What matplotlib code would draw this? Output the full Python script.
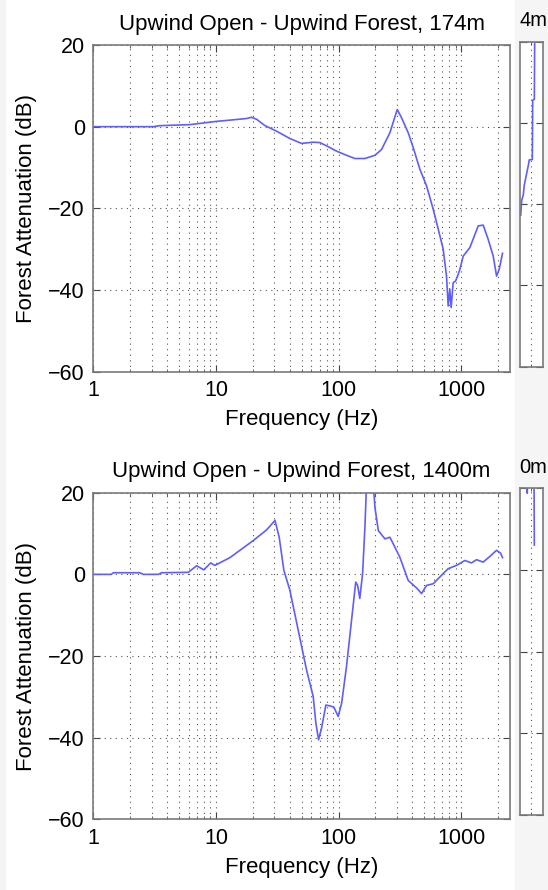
import matplotlib
matplotlib.use("Agg")
import matplotlib.pyplot as plt
from matplotlib.patches import Rectangle
from matplotlib.ticker import LogLocator, FixedLocator, NullFormatter

plt.rcParams["font.family"] = ["Liberation Sans", "DejaVu Sans"]

# upwind open - upwind forest, 174 m
freq_174 = [1, 3.08, 3.5, 6.14, 8.4, 10.1, 13, 17.8, 19.5, 21.5, 25, 31.2, 40.1,
            49.9, 62.1, 70.4, 82.4, 96.4, 116, 136, 164, 198, 224, 262, 301,
            326, 370, 406, 460, 522, 591, 650, 713, 759, 783, 807, 828, 860,
            899, 934, 976, 1038, 1177, 1376, 1511, 1660, 1824, 1943, 2042, 2173]
atten_174 = [0, 0, 0.25, 0.5, 1.0, 1.3, 1.6, 2.0, 2.3, 1.8, 0.3, -1.1, -2.9,
             -4.1, -3.8, -3.9, -4.9, -6.0, -7.0, -7.8, -7.8, -7.0, -5.6, -1.5, 4.2,
             2.2, -1.5, -5.1, -10.4, -14.5, -20.2, -25.1, -30.0, -36.6, -43.9, -39.8, -44.3, -38.2,
             -37.8, -36.6, -34.9, -31.7, -29.6, -24.3, -24.1, -27.6, -31.7, -36.6, -34.9, -31.0]

# upwind open - upwind forest, 1400 m
freq_1400 = [1, 1.4, 1.46, 2.4, 2.56, 3.39, 3.6, 5.95, 6.96, 7.98, 9.05, 9.8, 13,
             20.2, 25.9, 30.3, 32.8, 35.8, 40.1, 46.9, 54.8, 62.1, 65.3, 68.7, 72.7,
             78.8, 85, 91.6, 99.3, 106, 116, 132, 138, 143, 149, 157, 164, 169,
             192, 198, 211, 239, 262, 279, 316, 370, 432, 475, 522, 591, 692,
             783, 916, 1071, 1213, 1334, 1511, 1713, 1943, 2094, 2173]
atten_1400 = [0, 0, 0.4, 0.4, 0, 0, 0.4, 0.5, 2.1, 1.1, 2.8, 2.2, 4.1,
              8.3, 10.9, 13.2, 9.1, 1.0, -3.9, -13.7, -23.4, -29.9, -36.4, -40.5, -37.6,
              -32.0, -32.2, -32.5, -34.8, -31.5, -22.6, -7.2, -1.9, -2.7, -5.9, 0.2, 11.5, 22,
              22, 16.4, 10.7, 8.7, 9.1, 7.5, 4.2, -1.5, -3.3, -4.7, -2.7, -2.3, -0.2,
              1.4, 2.2, 3.4, 2.8, 3.6, 3.0, 4.4, 5.9, 5.2, 4.1]

# neighbouring panels on the right, only their right edges show
freq_edge_top = [1645, 1677, 1728, 1760, 1841, 1897, 1933, 2046, 2061, 2125, 2139, 2145]
atten_edge_top = [-22.7, -19, -17.7, -15.3, -12.4, -10.5, -9.1, -9, 5.6, 5.8, 20, 25]
freq_edge_bot = [1841, 1860, 1890, 2110, 2125]
atten_edge_bot = [25, 18.8, 25, 25, 6.1]

titles = ["Upwind Open - Upwind Forest, 174m", "Upwind Open - Upwind Forest, 1400m"]
edge_titles = ["4m", "0m"]
xticks = [1, 10, 100, 1000]
xtick_labels = ["1", "10", "100", "1000"]
yticks = [-60, -40, -20, 0, 20]

W, H = 548, 890
LINE = "#5e5eff"
GRID = dict(color="#555555", linewidth=0.8, linestyle=(0, (1, 4)))


def px_axes(fig, left, top, right, bottom):
    return fig.add_axes([left / W, 1 - bottom / H, (right - left) / W, (bottom - top) / H])


def style(ax, xmin, labels=True):
    ax.set_xscale("log")
    ax.set_yticks(yticks)
    ax.set_xticks(xticks)
    if labels:
        ax.xaxis.set_minor_locator(LogLocator(base=10, subs=range(2, 10)))
        ax.set_xticklabels(xtick_labels)
    else:
        # narrow sliver: the log locator falls back to linear steps here
        ax.xaxis.set_minor_locator(FixedLocator([2000]))
        ax.set_xticklabels([])
        ax.set_yticklabels([])
    ax.xaxis.set_minor_formatter(NullFormatter())
    # limits after the ticks, set_xticks would widen them
    ax.set_xlim(xmin, 2500)
    ax.set_ylim(-60, 20)
    ax.grid(True, which="major", **GRID)
    ax.grid(True, which="minor", axis="x", **GRID)
    ax.tick_params(which="both", direction="in", top=True, right=True,
                   color="#444444", labelsize=15.5, pad=6)
    ax.tick_params(which="major", length=5)
    ax.tick_params(which="minor", length=2.5)
    for s in ax.spines.values():
        s.set_color("#7a7a7a")
        s.set_linewidth(1.2)


fig = plt.figure(figsize=(W / 100, H / 100), dpi=100)
fig.patches.append(Rectangle((515 / W, 0), 1, 1, transform=fig.transFigure,
                             color="#f5f5f5", zorder=-10))
fig.patches.append(Rectangle((0, 0), 5 / W, 1, transform=fig.transFigure,
                             color="#f3f3f3", zorder=-10))

panels = [
    (45, 371.7, freq_174, atten_174, 41.7, 366.7, freq_edge_top, atten_edge_top),
    (492.7, 819.4, freq_1400, atten_1400, 488.3, 815, freq_edge_bot, atten_edge_bot),
]

for i, (top, bottom, f, a, etop, ebot, ef, ea) in enumerate(panels):
    ax = px_axes(fig, 93.3, top, 510, bottom)
    ax.plot(f, a, color=LINE, linewidth=1.2)
    style(ax, 1)
    ax.set_title(titles[i], fontsize=16, pad=11)
    ax.set_xlabel("Frequency (Hz)", fontsize=16, labelpad=6)
    ax.set_ylabel("Forest Attenuation (dB)", fontsize=16, labelpad=8)

    edge = px_axes(fig, 520, etop, 543, ebot)
    edge.plot(ef, ea, color=LINE, linewidth=1.2)
    style(edge, 1624, labels=False)
    # only the tail of the neighbour's title is visible
    fig.text(519 / W, 1 - (etop - 21) / H, edge_titles[i], fontsize=14.5,
             va="center", ha="left")

fig.savefig("out.png", dpi=100)
